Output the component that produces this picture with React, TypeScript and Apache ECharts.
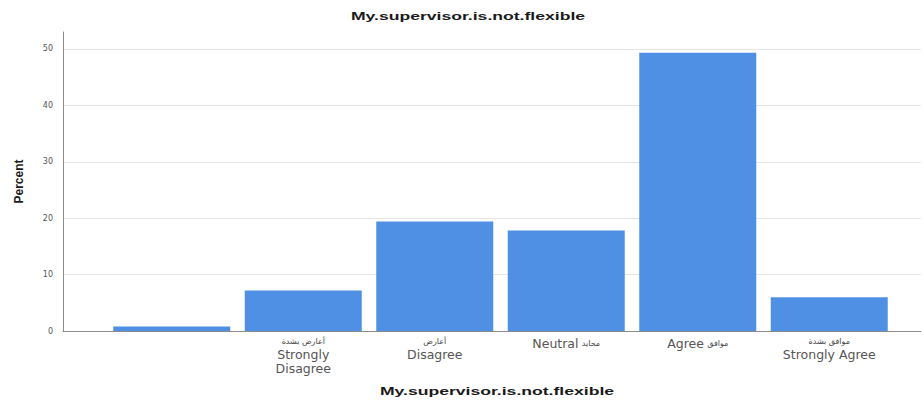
import React, { useEffect, useRef } from "react";
import * as echarts from "echarts";

const titleText = "My.supervisor.is.not.flexible";
const xAxisName = "My.supervisor.is.not.flexible";
const yAxisName = "Percent";
const categoriesArabic = ["", "أعارض بشدة", "أعارض", "محايد", "موافق", "موافق بشدة"];
const categoriesEnglish = ["", "Strongly\nDisagree", "Disagree", "Neutral", "Agree", "Strongly Agree"];
const inlineLabel = [false, false, false, true, true, false];
const percentValues = [0.8, 7.2, 19.4, 17.8, 49.3, 6.0];
const yTicks = [0, 10, 20, 30, 40, 50];

export default function App() {
  const ref = useRef<HTMLDivElement>(null);
  useEffect(() => {
    if (!ref.current) return;
    const chart = echarts.init(ref.current, null, { renderer: "svg" });
    const labels = categoriesEnglish.map((en, i) => {
      const ar = categoriesArabic[i];
      if (!en && !ar) return "";
      if (inlineLabel[i]) return `{b|${en}} {a|${ar}}`;
      return `{a|${ar}}\n` + en.split("\n").map((s) => `{b|${s}}`).join("\n");
    });
    const yMax = 53;
    const gridColors = yTicks.map(() => "#e4e4e4").concat(["rgba(0,0,0,0)"]);
    chart.setOption({
      animation: false,
      backgroundColor: "#ffffff",
      graphic: [
        {
          type: "text",
          x: 468,
          y: 16,
          scaleX: 1.6,
          style: {
            text: titleText,
            font: "bold 11px 'Liberation Sans', Arial, sans-serif",
            fill: "#1a1a1a",
            textAlign: "center",
            textVerticalAlign: "middle",
          },
        },
        {
          type: "text",
          x: 497,
          y: 391,
          scaleX: 1.6,
          style: {
            text: xAxisName,
            font: "bold 11px 'Liberation Sans', Arial, sans-serif",
            fill: "#1a1a1a",
            textAlign: "center",
            textVerticalAlign: "middle",
          },
        },
      ],
      grid: [
        { left: 63, right: 2, top: 32, bottom: 69 },
        { left: 106, right: 28, top: 32, bottom: 69 },
      ],
      xAxis: [
        {
          type: "value",
          gridIndex: 0,
          min: 0,
          max: 1,
          axisLine: { show: true, lineStyle: { color: "#8c8c8c", width: 1 } },
          axisTick: { show: false },
          axisLabel: { show: false },
          splitLine: { show: false },
        },
        {
          type: "category",
          gridIndex: 1,
          data: labels,
          axisLine: { show: false },
          axisTick: { show: false },
          axisLabel: {
            interval: 0,
            margin: 5,
            color: "#444444",
            rich: {
              a: { fontSize: 8, lineHeight: 11, fontFamily: "'DejaVu Sans', sans-serif", color: "#444444" },
              b: { fontSize: 12.5, lineHeight: 14, fontFamily: "'DejaVu Sans', sans-serif", color: "#555555" },
            },
          },
        },
      ],
      yAxis: [
        {
          type: "value",
          gridIndex: 0,
          min: 0,
          max: yMax,
          interval: 10,
          name: yAxisName,
          nameLocation: "middle",
          nameGap: 38,
          nameRotate: 90,
          nameTextStyle: {
            fontFamily: "'Liberation Sans', Arial, sans-serif",
            fontWeight: "bold",
            fontSize: 12,
            color: "#1a1a1a",
          },
          axisLine: { show: true, lineStyle: { color: "#8c8c8c", width: 1 } },
          axisTick: { show: false },
          axisLabel: {
            margin: 10,
            fontSize: 8,
            fontFamily: "'DejaVu Sans', sans-serif",
            color: "#555555",
            formatter: (v: number) => (yTicks.includes(v) ? String(v) : ""),
          },
          splitLine: { show: true, lineStyle: { color: gridColors, width: 1 } },
        },
        {
          type: "value",
          gridIndex: 1,
          min: 0,
          max: yMax,
          show: false,
          splitLine: { show: false },
        },
      ],
      series: [
        {
          type: "bar",
          xAxisIndex: 1,
          yAxisIndex: 1,
          data: percentValues,
          barWidth: 117,
          itemStyle: { color: "#5090e4" },
        },
      ],
    });
    return () => chart.dispose();
  }, []);
  return (
    <div
      ref={ref}
      style={{ position: "absolute", left: 0, top: 0, width: 923, height: 400 }}
    />
  );
}
